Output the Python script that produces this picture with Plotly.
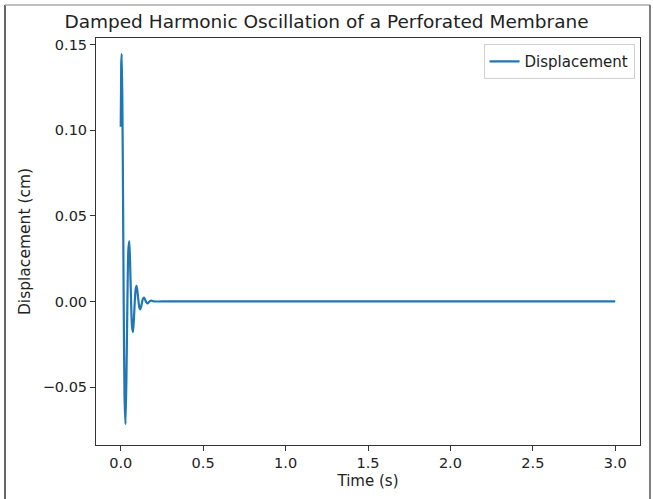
import plotly.graph_objects as go

# Values
time_s = [0.000, 0.003, 0.006, 0.010, 0.014, 0.018, 0.023, 0.029, 0.035, 0.041,
          0.046, 0.052, 0.057, 0.063, 0.068, 0.074, 0.079, 0.085, 0.090, 0.096,
          0.101, 0.107, 0.113, 0.118, 0.124, 0.130, 0.135, 0.141, 0.147, 0.152,
          0.158, 0.163, 0.169, 0.175, 0.185, 0.200, 0.250, 3.000]
displacement_cm = [0.102, 0.138, 0.1446, 0.1158, 0.0605, 0.0, -0.0555, -0.0716, -0.0414, 0.0038,
                   0.0298, 0.0352, 0.0222, -0.0004, -0.0141, -0.0179, -0.0119, -0.0006, 0.0067, 0.0091,
                   0.0063, 0.0007, -0.0036, -0.0046, -0.0029, -0.0001, 0.0017, 0.0023, 0.0013, 0.0001,
                   -0.0009, -0.0011, -0.0006, 0.0, 0.0005, 0.0, 0.0, 0.0]

x_ticks = [0.0, 0.5, 1.0, 1.5, 2.0, 2.5, 3.0]
x_tick_labels = ["0.0", "0.5", "1.0", "1.5", "2.0", "2.5", "3.0"]
y_ticks = [-0.05, 0.0, 0.05, 0.10, 0.15]
y_tick_labels = ["\u22120.05", "0.00", "0.05", "0.10", "0.15"]

FONT = "DejaVu Sans"

fig = go.Figure()
fig.add_trace(go.Scatter(
    x=time_s, y=displacement_cm, mode="lines", name="Displacement",
    line=dict(color="#1f77b4", width=2.2, shape="spline", smoothing=0.6),
))

L, R, T, B = 96, 13, 38, 54
W, H = 653, 499
pw, ph = W - L - R, H - T - B

def px(x):
    return (x - L) / pw

def py(y):
    return (H - B - y) / ph

axis_common = dict(
    showgrid=False, zeroline=False, showline=True, linecolor="#333333", linewidth=1,
    mirror=True, ticks="outside", ticklen=5, tickwidth=1, tickcolor="#333333",
    tickfont=dict(family=FONT, size=14.5, color="#222222"),
)

fig.update_layout(
    width=W, height=H,
    margin=dict(l=L, r=R, t=T, b=B),
    paper_bgcolor="white", plot_bgcolor="white",
    title=dict(text="Damped Harmonic Oscillation of a Perforated Membrane",
               x=px(368), xanchor="center", y=1 - 22 / H, yanchor="middle",
               font=dict(family=FONT, size=18.5, color="#222222")),
    xaxis=dict(range=[-0.15, 3.15], tickvals=x_ticks, ticktext=x_tick_labels,
               title=dict(text="Time (s)", font=dict(family=FONT, size=15, color="#222222"), standoff=5),
               **axis_common),
    yaxis=dict(range=[-0.0838, 0.1538], tickvals=y_ticks, ticktext=y_tick_labels,
               title=dict(text="Displacement (cm)", font=dict(family=FONT, size=15.5, color="#222222"), standoff=8),
               **axis_common),
    showlegend=True,
    legend=dict(x=0.99, y=0.985, xanchor="right", yanchor="top",
                bgcolor="rgba(255,255,255,0.9)", bordercolor="#d0d0d0", borderwidth=1,
                font=dict(family=FONT, size=15, color="#222222")),
    shapes=[
        dict(type="line", xref="paper", yref="paper", x0=px(5), x1=px(5), y0=py(5), y1=py(499),
             line=dict(color="#333333", width=1.5)),
        dict(type="line", xref="paper", yref="paper", x0=px(5), x1=px(650), y0=py(5), y1=py(5),
             line=dict(color="#aaaaaa", width=1.5)),
        dict(type="line", xref="paper", yref="paper", x0=px(650), x1=px(650), y0=py(5), y1=py(499),
             line=dict(color="#555555", width=1.5)),
    ],
)

fig.write_html("out.html", config={"displayModeBar": False},
               post_script="document.body.style.margin='0';document.body.style.overflow='hidden';")
